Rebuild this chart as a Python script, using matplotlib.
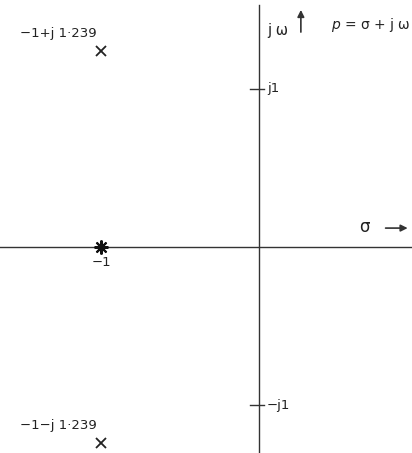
import matplotlib
matplotlib.use("Agg")
import matplotlib.pyplot as plt

# pole / zero positions (sigma, omega)
poles = [(-1.0, 1.239), (-1.0, -1.239)]
zeros = [(-1.0, 0.0)]
pole_labels = ["\u22121+j 1\u00b7239", "\u22121\u2212j 1\u00b7239"]
ticks_w = [1.0, -1.0]
tick_labels = ["j1", "\u2212j1"]

fig = plt.figure(figsize=(4.12, 4.53), dpi=100)
ax = fig.add_axes([0, 0, 1, 1])
ax.set_xlim(-1.64, 0.97)
ax.set_ylim(-1.30, 1.56)
ax.axis("off")

col = "#333333"
# axes
ax.plot([-1.64, 0.97], [0, 0], color=col, lw=1.0)
ax.plot([0, 0], [-1.30, 1.53], color=col, lw=1.0)

# tick marks on jw axis
for w, lab in zip(ticks_w, tick_labels):
    ax.plot([-0.055, 0.03], [w, w], color=col, lw=1.0)
    ax.text(0.05, w, lab, fontsize=9.5, va="center", ha="left", color="#222222")

# poles
for (s, w), lab in zip(poles, pole_labels):
    ax.plot(s, w, marker="x", color="#222222", ms=7, mew=1.3)
    ax.text(s - 0.03, w + 0.11, lab, fontsize=9.5,
            ha="right", va="center", color="#222222")

# zero / double point at -1
for s, w in zeros:
    ax.plot(s, w, marker=(8, 2, 0), color="#111111", ms=10, mew=1.5)
    ax.text(s, w - 0.095, "\u22121", fontsize=9.5, ha="center", va="center", color="#222222")

# axis arrows and names
ax.annotate("", xy=(0.266, 1.515), xytext=(0.266, 1.34),
            arrowprops=dict(arrowstyle="-|>", color=col, lw=1.2, mutation_scale=10))
ax.text(0.05, 1.37, "j \u03c9", fontsize=10.5, ha="left", va="center", color="#222222")
ax.text(0.455, 1.40, "$p$ = \u03c3 + j \u03c9", fontsize=10, ha="left", va="center", color="#222222")

ax.annotate("", xy=(0.96, 0.12), xytext=(0.785, 0.12),
            arrowprops=dict(arrowstyle="-|>", color=col, lw=1.2, mutation_scale=10))
ax.text(0.67, 0.125, "\u03c3", fontsize=12, ha="center", va="center", color="#222222")

fig.savefig("out.png", dpi=100)
